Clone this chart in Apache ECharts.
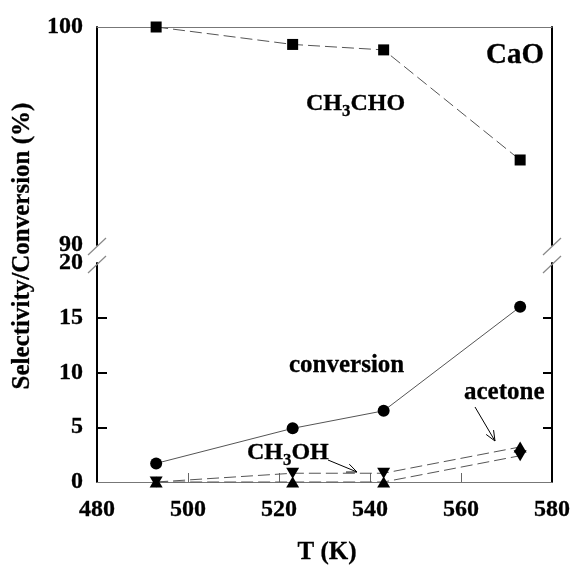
<!DOCTYPE html>
<html>
<head>
<meta charset="utf-8">
<script src="https://cdn.jsdelivr.net/npm/echarts@6/dist/echarts.min.js"></script>
<style>
html,body{margin:0;padding:0;background:#fff;}
#chart{width:574px;height:565px;}
</style>
</head>
<body>
<div id="chart"></div>
<script>
// ---- data ----
const temps = [493, 523, 543, 573];
const ch3choSel = [100, 99.2, 98.95, 93.9];
const conversion = [1.7, 4.9, 6.5, 16.0];
const ch3ohSel = [0, 0.8, 0.8, 3.2];
const acetoneSel = [0, 0, 0, 2.4];
const xTickValues = [480, 500, 520, 540, 560, 580];
const topYTicks = [90, 100];
const bottomYTicks = [0, 5, 10, 15, 20];

const FONT = '"Liberation Serif","Times New Roman",serif';
const labelStyle = {fontFamily: FONT, fontWeight: 'bold', fontSize: 24, color: '#000',
                    textBorderColor: '#000', textBorderWidth: 0.3};

function pts(vals, flipLast, baseRot) {
  return vals.map((v, i) => ({
    value: [temps[i], v],
    symbolRotate: (flipLast && i === vals.length - 1) ? (180 - baseRot) : baseRot
  }));
}

const chart = echarts.init(document.getElementById('chart'), null, {renderer: 'canvas'});

const option = {
  backgroundColor: '#fff',
  animation: false,
  grid: [
    {left: 97, right: 22, top: 27, height: 218},
    {left: 97, right: 22, top: 263, height: 219}
  ],
  xAxis: [
    {gridIndex: 0, type: 'value', min: 480, max: 580, interval: 20, position: 'top',
     axisLine: {show: true, lineStyle: {color: '#777', width: 1}},
     axisTick: {show: false}, axisLabel: {show: false}, splitLine: {show: false}},
    {gridIndex: 1, type: 'value', min: 480, max: 580, interval: 20, position: 'bottom',
     axisLine: {show: true, lineStyle: {color: '#777', width: 1}},
     axisTick: {show: true, inside: true, length: 9, lineStyle: {color: '#666', width: 1},
                customValues: xTickValues.slice(1, -1)},
     axisLabel: Object.assign({margin: 16, customValues: xTickValues}, labelStyle),
     splitLine: {show: false}}
  ],
  yAxis: [
    {gridIndex: 0, type: 'value', min: topYTicks[0], max: topYTicks[1], interval: 10, position: 'left',
     axisLine: {show: true, lineStyle: {color: '#000', width: 2}},
     axisTick: {show: false},
     axisLabel: Object.assign({margin: 14, customValues: topYTicks}, labelStyle),
     splitLine: {show: false}},
    {gridIndex: 0, type: 'value', min: topYTicks[0], max: topYTicks[1], interval: 10, position: 'right',
     axisLine: {show: true, lineStyle: {color: '#000', width: 2}},
     axisTick: {show: false}, axisLabel: {show: false}, splitLine: {show: false}},
    {gridIndex: 1, type: 'value', min: 0, max: 20, interval: 5, position: 'left',
     axisLine: {show: true, lineStyle: {color: '#000', width: 2}},
     axisTick: {show: true, inside: true, length: 10, lineStyle: {color: '#000', width: 2},
                customValues: bottomYTicks.slice(1, -1)},
     axisLabel: Object.assign({margin: 14, customValues: bottomYTicks}, labelStyle),
     splitLine: {show: false}},
    {gridIndex: 1, type: 'value', min: 0, max: 20, interval: 5, position: 'right',
     axisLine: {show: true, lineStyle: {color: '#000', width: 2}},
     axisTick: {show: true, inside: true, length: 9, lineStyle: {color: '#000', width: 2},
                customValues: bottomYTicks.slice(1, -1)},
     axisLabel: {show: false}, splitLine: {show: false}}
  ],
  series: [
    {name: 'CH3CHO', type: 'line', xAxisIndex: 0, yAxisIndex: 0,
     data: temps.map((t, i) => [t, ch3choSel[i]]),
     symbol: 'rect', symbolSize: 11, itemStyle: {color: '#000'},
     lineStyle: {color: '#555', width: 1, type: [12, 5]}},
    {name: 'conversion', type: 'line', xAxisIndex: 1, yAxisIndex: 2,
     data: temps.map((t, i) => [t, conversion[i]]),
     symbol: 'circle', symbolSize: 12, itemStyle: {color: '#000'},
     lineStyle: {color: '#555', width: 1}},
    {name: 'acetone', type: 'line', xAxisIndex: 1, yAxisIndex: 2,
     data: pts(acetoneSel, true, 0),
     symbol: 'triangle', symbolSize: [13, 11], itemStyle: {color: '#000'},
     lineStyle: {color: '#555', width: 1, type: [12, 5]}},
    {name: 'CH3OH', type: 'line', xAxisIndex: 1, yAxisIndex: 2,
     data: pts(ch3ohSel, true, 180),
     symbol: 'triangle', symbolSize: [13, 11], itemStyle: {color: '#000'},
     lineStyle: {color: '#555', width: 1, type: [12, 5]}}
  ]
};
chart.setOption(option);

// ---- annotations ----
const pTopL = chart.convertToPixel({gridIndex: 0}, [480, 90]);
const pTopR = chart.convertToPixel({gridIndex: 0}, [580, 90]);
const pBotL = chart.convertToPixel({gridIndex: 1}, [480, 20]);
const pBotR = chart.convertToPixel({gridIndex: 1}, [580, 20]);

function slash(x, y) {
  return {type: 'line', shape: {x1: x - 9, y1: y + 9, x2: x + 9, y2: y - 8},
          style: {stroke: '#888', lineWidth: 1.2}, z: 10};
}
function arrow(x1, y1, x2, y2) {
  const a = Math.atan2(y2 - y1, x2 - x1), L = 11, w = 0.4;
  return [
    {type: 'line', shape: {x1, y1, x2, y2}, style: {stroke: '#000', lineWidth: 1}},
    {type: 'polyline', shape: {points: [
      [x2 - L * Math.cos(a - w), y2 - L * Math.sin(a - w)], [x2, y2],
      [x2 - L * Math.cos(a + w), y2 - L * Math.sin(a + w)]]},
     style: {stroke: '#000', lineWidth: 1, fill: null}}
  ];
}
const bold = {fontFamily: FONT, fontWeight: 'bold', fill: '#000', stroke: '#000', lineWidth: 0.3};
const txt = (x, y, text, size, rich) => ({
  type: 'text', x, y,
  style: Object.assign({text, fontSize: size, verticalAlign: 'middle', align: 'left', rich: rich || {}}, bold)
});
const subRich = (size) => ({
  n: Object.assign({fontSize: size}, bold),
  s: Object.assign({fontSize: size * 0.7, padding: [size * 0.6, 0, 0, 0]}, bold)
});

const graphics = [
  slash(pTopL[0], pTopL[1] + 1), slash(pBotL[0], pBotL[1] + 1),
  slash(pTopR[0], pTopR[1] + 1), slash(pBotR[0], pBotR[1] + 1),
  txt(486, 56, 'CaO', 29),
  txt(306, 104, '{n|CH}{s|3}{n|CHO}', 24, subRich(24)),
  txt(289, 366, 'conversion', 25),
  txt(464, 393, 'acetone', 25),
  txt(247, 453, '{n|CH}{s|3}{n|OH}', 24, subRich(24)),
  {type: 'text', x: 23, y: 246, rotation: Math.PI / 2,
   style: Object.assign({text: 'Selectivity/Conversion (%)', fontSize: 25,
           align: 'center', verticalAlign: 'middle'}, bold)},
  {type: 'text', x: 327, y: 553,
   style: Object.assign({text: 'T (K)', fontSize: 25, align: 'center', verticalAlign: 'middle'}, bold)}
].concat(arrow(328, 460, 357, 472)).concat(arrow(475, 407, 495, 441));

chart.setOption({graphic: graphics});
</script>
</body>
</html>
